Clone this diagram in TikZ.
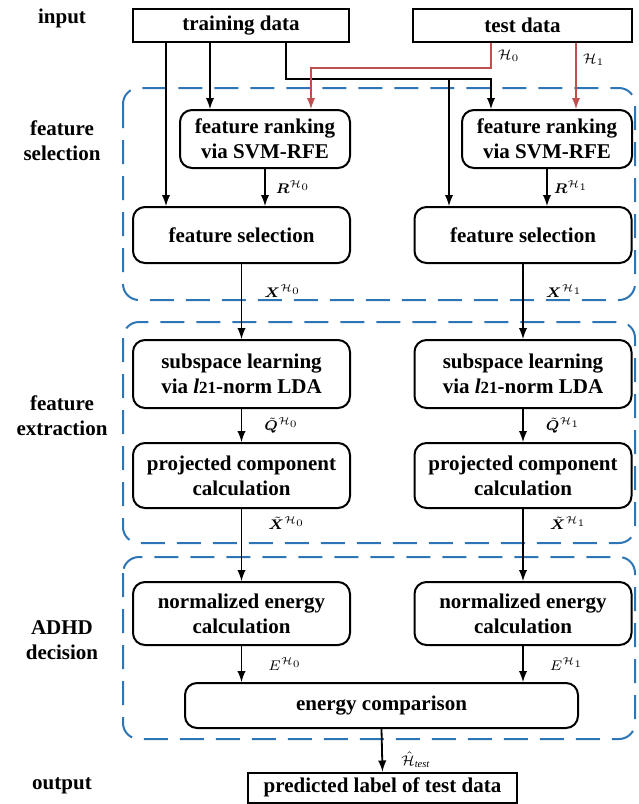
\documentclass[tikz,border=0pt]{standalone}
\usepackage{fontspec}
\setmainfont{Liberation Serif}
\usepackage{amsmath}
\usepackage{bm}
\usetikzlibrary{positioning}
\usetikzlibrary{arrows}
\definecolor{dashblue}{RGB}{46,117,182}
\definecolor{linkred}{RGB}{192,80,77}

\tikzset{
  box/.style={draw, line width=1pt, align=center, inner sep=0pt, font=\fontsize{10.5}{12.5}\selectfont\bfseries},
  plainbox/.style={box, rectangle},
  roundbox/.style={box, rounded corners=6pt},
  stage/.style={draw=dashblue, line width=1pt, dash pattern=on 12pt off 6pt, rounded corners=8pt},
  arr/.style={-latex, line width=0.9pt},
  redarr/.style={arr, draw=linkred},
  lbl/.style={font=\fontsize{7.5}{9}\selectfont, inner sep=1pt},
  side/.style={align=center, font=\fontsize{10.5}{12.5}\selectfont\bfseries},
}

\begin{document}
\begin{tikzpicture}[x=0.5pt, y=-0.5pt]
            \useasboundingbox (0,0) rectangle (638,804);
            % stages
            \draw[stage] (123,88) rectangle (635,300);
            \draw[stage] (123,322) rectangle (635,543);
            \draw[stage] (123,557) rectangle (635,739);
            % side labels
            \node[side] (lin) at (62,18) {input};
            \node[side] (lsel) at (62,141) {feature\\selection};
            \node[side] (lext) at (62,416) {feature\\extraction};
            \node[side] (ldec) at (62,640) {ADHD\\decision};
            \node[side] (lout) at (62,786) {output};
            % input boxes
            \node[plainbox, minimum width=108pt, minimum height=16.5pt] (trn) at (241,25.5) {training data};
            \node[plainbox, minimum width=109.5pt, minimum height=16.5pt] (tst) at (522.5,25.5) {test data};
            % feature selection
            \node[roundbox, minimum width=85pt, minimum height=29pt] (rank0) at (265,139) {feature ranking\\via SVM-RFE};
            \node[roundbox, minimum width=85pt, minimum height=29pt] (rank1) at (547,139) {feature ranking\\via SVM-RFE};
            \node[roundbox, minimum width=108.5pt, minimum height=28pt] (sel0) at (241.5,235) {feature selection};
            \node[roundbox, minimum width=108.5pt, minimum height=28pt] (sel1) at (523,235) {feature selection};
            % feature extraction
            \node[roundbox, minimum width=108.5pt, minimum height=34pt] (sub0) at (241.5,374) {subspace learning\\via \textit{l}{\fontsize{8.5}{9}\selectfont 21}-norm LDA};
            \node[roundbox, minimum width=108.5pt, minimum height=34pt] (sub1) at (523,374) {subspace learning\\via \textit{l}{\fontsize{8.5}{9}\selectfont 21}-norm LDA};
            \node[roundbox, minimum width=108.5pt, minimum height=32.5pt] (proj0) at (241.5,475.5) {projected component\\calculation};
            \node[roundbox, minimum width=108.5pt, minimum height=32.5pt] (proj1) at (523,475.5) {projected component\\calculation};
            % decision
            \node[roundbox, minimum width=108.5pt, minimum height=31.5pt] (norm0) at (241.5,613.5) {normalized energy\\calculation};
            \node[roundbox, minimum width=108.5pt, minimum height=31.5pt] (norm1) at (523,613.5) {normalized energy\\calculation};
            \node[roundbox, minimum width=196.5pt, minimum height=22.5pt] (cmp) at (381.5,705.5) {energy comparison};
            \node[plainbox, minimum width=134.5pt, minimum height=15pt] (pred) at (382.5,787.5) {predicted label of test data};
            % helper points
            \coordinate (jn) at (449,79);
            \coordinate (bend0) at (311,68);
            % input links
            \draw[arr] ([xshift=17pt]trn.south west) -- ([xshift=17pt]trn.south west |- sel0.north);
            \draw[arr] ([xshift=15.5pt]rank0.north west |- trn.south) -- ([xshift=15.5pt]rank0.north west);
            \draw[arr] ([xshift=22.5pt]trn.south) |- (jn) -| ([xshift=15pt]rank1.north west);
            \draw[arr] (jn) -- (jn |- sel1.north);
            \draw[redarr] ([xshift=-15.75pt]tst.south) -- node[lbl, right, xshift=2pt]{$\mathcal{H}_0$} ([xshift=-15.75pt]tst.south |- bend0) -- (bend0) -- (bend0 |- rank0.north);
            \draw[redarr] ([xshift=26.75pt]tst.south) -- node[lbl, right, pos=0.25, xshift=2pt]{$\mathcal{H}_1$} ([xshift=14.5pt]rank1.north);
            % left chain
            \draw[arr] (rank0.south) -- node[lbl, right, xshift=4pt]{$\bm{R}^{\mathcal{H}_0}$} (rank0.south |- sel0.north);
            \draw[arr] (sel0.south) -- node[lbl, right, pos=0.36, xshift=10pt]{$\bm{X}^{\mathcal{H}_0}$} (sub0.north);
            \draw[arr] (sub0.south) -- node[lbl, right, xshift=10pt]{$\tilde{\bm{Q}}^{\mathcal{H}_0}$} (proj0.north);
            \draw[arr] (proj0.south) -- node[lbl, right, pos=0.2, xshift=12pt]{$\tilde{\bm{X}}^{\mathcal{H}_0}$} (norm0.north);
            \draw[arr] (norm0.south) -- node[lbl, right, xshift=12pt]{$E^{\mathcal{H}_0}$} (norm0.south |- cmp.north);
            % right chain
            \draw[arr] (rank1.south) -- node[lbl, right, xshift=2pt]{$\bm{R}^{\mathcal{H}_1}$} (rank1.south |- sel1.north);
            \draw[arr] (sel1.south) -- node[lbl, right, pos=0.36, xshift=10pt]{$\bm{X}^{\mathcal{H}_1}$} (sub1.north);
            \draw[arr] (sub1.south) -- node[lbl, right, xshift=10pt]{$\tilde{\bm{Q}}^{\mathcal{H}_1}$} (proj1.north);
            \draw[arr] (proj1.south) -- node[lbl, right, pos=0.2, xshift=12pt]{$\tilde{\bm{X}}^{\mathcal{H}_1}$} (norm1.north);
            \draw[arr] (norm1.south) -- node[lbl, right, xshift=12pt]{$E^{\mathcal{H}_1}$} (norm1.south |- cmp.north);
            % output
            \draw[arr] (cmp.south) -- node[lbl, right, pos=0.72, xshift=8pt]{$\hat{\mathcal{H}}_{\mathit{test}}$} (pred.north);
        \end{tikzpicture}
\end{document}
